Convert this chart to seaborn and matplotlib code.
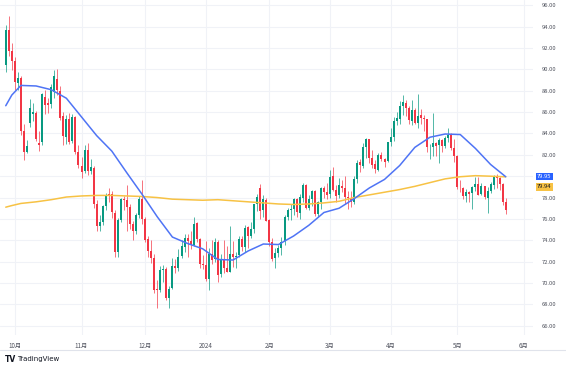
import numpy as np
import pandas as pd
import matplotlib
matplotlib.use("Agg")
import matplotlib.pyplot as plt
import matplotlib.transforms as mtransforms
import seaborn as sns

# ---------------- data (WTI daily candles) ----------------
start_date = "2023-09-27"
end_date = "2024-05-23"
holidays = ["2023-11-23", "2023-12-25", "2024-01-01", "2024-01-15",
            "2024-02-19", "2024-03-29", "2024-05-27"]

opens = [
    90.4, 93.7, 91.7,
    90.8, 88.7, 89.2, 84.2, 82.3, 85.0, 85.8, 85.9, 83.1, 83.2, 87.4, 86.9, 86.8, 87.9, 89.1, 88.0, 85.6, 83.7, 85.4, 83.3, 85.5, 82.3,
    81.0, 80.5, 82.5, 80.5, 80.8, 77.4, 75.3, 75.7, 77.2, 78.3, 78.3, 76.6, 72.9, 75.9, 77.8, 77.8, 77.1, 75.5, 74.9, 76.4, 77.9,
    76.0, 74.1, 73.0, 72.3, 69.4, 69.3, 71.2, 71.3, 68.6, 69.5, 71.6, 71.4, 72.5, 73.4, 74.2, 73.9, 73.6, 75.6, 74.1, 71.8,
    71.7, 70.4, 72.7, 72.2, 73.8, 70.8, 72.2, 71.4, 71.0, 72.7, 72.4, 72.6, 74.1, 73.4, 75.2, 74.4, 75.1, 77.4, 78.9, 76.8, 77.8,
    75.9, 73.8, 72.3, 72.8, 73.3, 73.9, 76.2, 76.8, 76.9, 77.9, 76.6, 78.0, 79.2, 77.0, 77.9, 78.6, 76.5, 77.6, 78.9, 78.5,
    78.3, 80.0, 78.7, 78.2, 79.1, 78.9, 78.0, 77.9, 77.6, 79.7, 81.3, 81.0, 82.7, 83.5, 81.7, 81.1, 80.6, 82.0, 81.6, 81.4,
    83.2, 83.7, 85.2, 85.4, 86.6, 86.9, 86.4, 85.2, 86.2, 85.0, 85.7, 85.4, 85.4, 82.7, 82.7, 83.1, 82.9, 83.4, 82.8, 83.6, 83.9, 82.6,
    81.9, 79.0, 78.9, 78.1, 78.5, 78.4, 79.0, 79.3, 78.3, 79.1, 78.0, 78.6, 79.2, 79.9, 79.8, 79.3, 77.6,
]
highs = [
    94.2, 95.03, 92.5,
    91.2, 89.8, 89.4, 84.9, 83.4, 87.2, 86.9, 86.1, 84.2, 87.8, 88.1, 87.3, 88.6, 89.9, 90.0, 88.4, 86.0, 85.7, 85.9, 85.8, 85.6, 82.9,
    81.8, 82.9, 83.1, 81.6, 81.0, 77.8, 76.4, 77.3, 78.4, 78.9, 78.6, 76.8, 76.1, 78.0, 78.1, 79.2, 77.4, 75.8, 76.6, 78.1, 79.6,
    76.2, 74.4, 74.0, 72.7, 70.3, 71.6, 71.7, 71.5, 69.7, 72.3, 72.2, 73.2, 74.0, 74.6, 74.6, 74.9, 76.2, 75.7, 74.2, 72.6,
    73.9, 73.3, 74.0, 74.2, 74.0, 72.7, 74.0, 73.5, 75.3, 73.9, 72.9, 74.4, 74.4, 75.4, 75.3, 75.7, 77.4, 78.3, 79.3, 78.2, 78.0,
    76.0, 74.2, 73.3, 73.6, 74.3, 76.4, 77.0, 77.4, 78.0, 78.0, 78.3, 79.4, 79.3, 78.2, 78.7, 78.7, 77.7, 79.0, 79.1, 79.4,
    80.6, 80.9, 79.2, 79.8, 79.6, 80.0, 78.6, 78.6, 80.0, 81.5, 81.6, 83.1, 83.6, 83.5, 82.5, 81.5, 82.2, 82.3, 81.7, 83.2,
    84.5, 85.5, 86.0, 87.0, 87.6, 87.1, 86.6, 87.1, 86.4, 87.7, 86.3, 85.7, 85.4, 83.0, 85.9, 83.2, 83.6, 83.5, 83.8, 84.5, 84.0, 83.5,
    82.0, 79.6, 79.0, 78.8, 78.6, 79.1, 79.9, 79.9, 79.4, 79.1, 79.0, 79.5, 80.1, 80.2, 79.9, 79.4, 78.0,
]
lows = [
    89.8, 91.3, 89.9,
    88.1, 88.1, 83.9, 81.5, 82.2, 84.6, 85.2, 83.3, 82.4, 82.9, 85.8, 85.9, 86.4, 87.3, 87.6, 85.3, 82.9, 83.0, 83.0, 83.1, 82.1, 80.8,
    79.8, 80.3, 80.1, 80.2, 77.0, 74.9, 74.9, 75.4, 76.8, 77.6, 76.1, 72.4, 72.4, 75.7, 76.8, 74.9, 75.1, 74.0, 74.6, 76.1, 75.5,
    73.8, 72.4, 71.9, 69.1, 67.7, 69.2, 70.1, 68.4, 67.7, 69.4, 70.9, 71.1, 72.3, 72.9, 72.4, 73.2, 73.5, 73.8, 71.4, 71.3,
    70.2, 69.3, 71.8, 72.0, 70.1, 70.6, 70.9, 71.0, 71.0, 71.5, 71.4, 72.4, 73.0, 72.9, 73.3, 74.2, 74.7, 76.7, 76.0, 76.2, 75.8,
    73.5, 72.1, 71.4, 72.4, 72.6, 73.6, 75.9, 75.9, 76.4, 76.2, 76.0, 77.6, 76.9, 76.8, 77.2, 76.3, 76.2, 76.9, 78.0, 77.9,
    78.0, 78.6, 77.6, 78.0, 78.5, 77.4, 76.9, 77.1, 77.4, 79.4, 80.4, 80.8, 81.7, 81.2, 80.8, 80.3, 80.5, 81.4, 80.9, 81.3,
    82.8, 83.3, 84.8, 84.9, 85.7, 85.6, 84.9, 84.8, 84.9, 84.5, 84.9, 84.2, 82.3, 81.6, 81.9, 81.9, 81.2, 82.3, 82.6, 83.2, 82.5, 81.3,
    78.8, 78.5, 77.9, 77.6, 77.6, 76.9, 78.6, 78.2, 78.2, 77.9, 76.6, 78.4, 78.8, 78.9, 78.7, 77.3, 76.5,
]
closes = [
    93.68, 91.71, 90.79,
    88.82, 89.23, 84.22, 82.31, 82.79, 86.38, 85.97, 83.49, 82.91, 87.69, 86.66, 86.66, 88.32, 89.37, 88.08, 85.49, 83.74, 85.39, 83.21, 85.54, 82.31, 81.02,
    80.44, 82.46, 80.51, 80.82, 77.37, 75.33, 75.74, 77.17, 78.26, 78.26, 76.66, 72.90, 75.89, 77.83, 77.77, 77.10, 75.54, 74.86, 76.41, 77.86, 75.96,
    74.07, 73.04, 72.32, 69.38, 69.34, 71.23, 71.32, 68.61, 69.47, 71.58, 71.43, 72.47, 73.44, 74.22, 73.89, 73.56, 75.57, 74.11, 71.77, 71.65,
    70.38, 72.70, 72.19, 73.81, 70.77, 72.24, 71.37, 71.02, 72.68, 72.40, 72.56, 74.08, 73.41, 75.19, 74.37, 75.09, 77.36, 78.01, 76.78, 77.82, 75.85,
    73.82, 72.28, 72.78, 73.31, 73.86, 76.22, 76.84, 76.92, 77.87, 76.64, 78.03, 79.19, 77.04, 77.91, 78.61, 76.49, 77.58, 78.87, 78.54, 78.26,
    79.97, 78.74, 78.15, 79.13, 78.93, 78.01, 77.93, 77.56, 79.72, 81.26, 81.04, 82.72, 83.47, 81.68, 81.07, 80.63, 81.95, 81.62, 81.35, 83.17,
    83.71, 85.15, 85.43, 86.59, 86.91, 86.43, 85.23, 86.21, 85.02, 85.66, 85.41, 85.36, 82.69, 82.73, 83.14, 82.85, 83.36, 82.81, 83.57, 83.85, 82.63, 81.93,
    79.00, 78.95, 78.11, 78.48, 78.38, 78.99, 79.26, 78.26, 79.12, 78.02, 78.63, 79.23, 80.06, 79.80, 79.26, 77.57, 76.87,
]

ma_bar = [0, 2, 5, 10, 15, 20, 25, 30, 35, 40, 45, 50, 55, 60, 65, 70, 75, 80, 85,
          90, 95, 100, 105, 110, 115, 120, 125, 130, 135, 140, 145, 150, 155, 160, 165]
ma_fast = [86.6, 87.6, 88.5, 88.45, 88.1, 87.3, 85.55, 83.8, 82.35, 80.3, 78.3, 76.2, 74.3, 73.7,
           73.2, 72.2, 72.15, 73.0, 73.65, 73.6, 74.4, 75.4, 76.6, 77.0, 77.9, 78.9, 79.7, 81.0,
           82.7, 83.65, 83.95, 83.9, 82.6, 81.1, 79.95]
ma_slow = [77.1, 77.25, 77.45, 77.6, 77.8, 78.05, 78.15, 78.2, 78.2, 78.15, 78.1, 78.0, 77.85, 77.8,
           77.75, 77.8, 77.7, 77.6, 77.5, 77.4, 77.35, 77.4, 77.5, 77.65, 78.0, 78.25, 78.5, 78.75,
           79.05, 79.4, 79.75, 79.95, 80.05, 80.0, 79.94]

month_dates = ["2023-10-02", "2023-11-01", "2023-12-01", "2024-01-02", "2024-02-01",
               "2024-03-01", "2024-04-01", "2024-05-01", "2024-06-03"]
month_labels = ["10月", "11月", "12月", "2024", "2月", "3月", "4月", "5月", "6月"]
price_ticks = [66, 68, 70, 72, 74, 76, 78, 80, 82, 84, 86, 88, 90, 92, 94, 96]
hidden_tick = 80          # covered by the last-value badge on the price scale
last_fast_label = "79.95"
last_slow_label = "79.94"

# ---------------- figure ----------------
sns.set_theme(style="white")
plt.rcParams["font.family"] = ["Noto Sans CJK JP", "DejaVu Sans"]

dates = pd.bdate_range(start_date, end_date, freq="C", holidays=holidays)
df = pd.DataFrame({"date": dates, "open": opens, "high": highs, "low": lows, "close": closes})
df["bar"] = np.arange(len(df))
month_pos = np.busday_count(start_date, month_dates, holidays=holidays)

W, H = 566, 367
fig = plt.figure(figsize=(W / 100, H / 100), dpi=100)
fig.patch.set_facecolor("white")
ax = fig.add_axes([0, 1 - 335 / H, 533 / W, 335 / H])
ax.set_facecolor("white")

grid_c = "#f0f2f7"
for p in price_ticks:
    ax.axhline(p, color=grid_c, lw=0.8, zorder=0)
for m in month_pos:
    ax.axvline(m, color=grid_c, lw=0.8, zorder=0)

up_c, dn_c = "#089981", "#f23645"
o = df["open"].to_numpy(); c = df["close"].to_numpy()
colors = np.where(c >= o, up_c, dn_c)
ax.vlines(df["bar"], df["low"], df["high"], colors=colors, lw=0.7, alpha=0.7, zorder=2)
ax.bar(df["bar"], np.maximum(np.abs(c - o), 0.08), bottom=np.minimum(o, c),
       width=0.66, color=colors, linewidth=0, zorder=3)

ma_df = pd.DataFrame({"bar": ma_bar, "fast": ma_fast, "slow": ma_slow})
sns.lineplot(data=ma_df, x="bar", y="slow", color="#f7c244", lw=1.1, ax=ax, zorder=4,
             estimator=None, sort=False)
sns.lineplot(data=ma_df, x="bar", y="fast", color="#4f74f5", lw=1.1, ax=ax, zorder=5,
             estimator=None, sort=False)

ax.set_xlim(-1.9, 174.0)
ax.set_ylim(65.13, 96.5)
ax.set_xlabel(""); ax.set_ylabel("")
for s in ax.spines.values():
    s.set_visible(False)

ax.yaxis.tick_right()
ax.set_yticks(price_ticks)
ax.set_yticklabels(["" if p == hidden_tick else f"{p:.2f}" for p in price_ticks])
ax.tick_params(axis="y", length=0, pad=6, labelsize=4.2, labelcolor="#50535e")
ax.set_xticks(month_pos)
ax.set_xticklabels(month_labels)
ax.tick_params(axis="x", length=0, pad=5, labelsize=4.5, labelcolor="#50535e")

# last-value badges on the price scale
blend = mtransforms.blended_transform_factory(ax.transAxes, ax.transData)
ax.text(1.008, ma_fast[-1] + 0.05, last_fast_label, transform=blend, fontsize=4.2, color="white",
        va="center", ha="left",
        bbox=dict(boxstyle="square,pad=0.18", fc="#2962ff", ec="none"), clip_on=False)
ax.text(1.008, ma_slow[-1] - 0.95, last_slow_label, transform=blend, fontsize=4.2, color="#131722",
        va="center", ha="left",
        bbox=dict(boxstyle="square,pad=0.18", fc="#f7c244", ec="none"), clip_on=False)

# bottom border and TradingView mark
fig.add_artist(plt.Line2D([0, 1], [1 - 350 / H, 1 - 350 / H], color="#e0e3eb", lw=0.8))
fig.text(5 / W, 1 - 359 / H, "TV", fontsize=5.5, fontweight="bold", color="#131722",
         va="center", ha="left", family=["DejaVu Sans"])
fig.text(17 / W, 1 - 359 / H, "TradingView", fontsize=5, color="#131722",
         va="center", ha="left", family=["DejaVu Sans"])

fig.savefig("out.png", dpi=100, facecolor="white")
